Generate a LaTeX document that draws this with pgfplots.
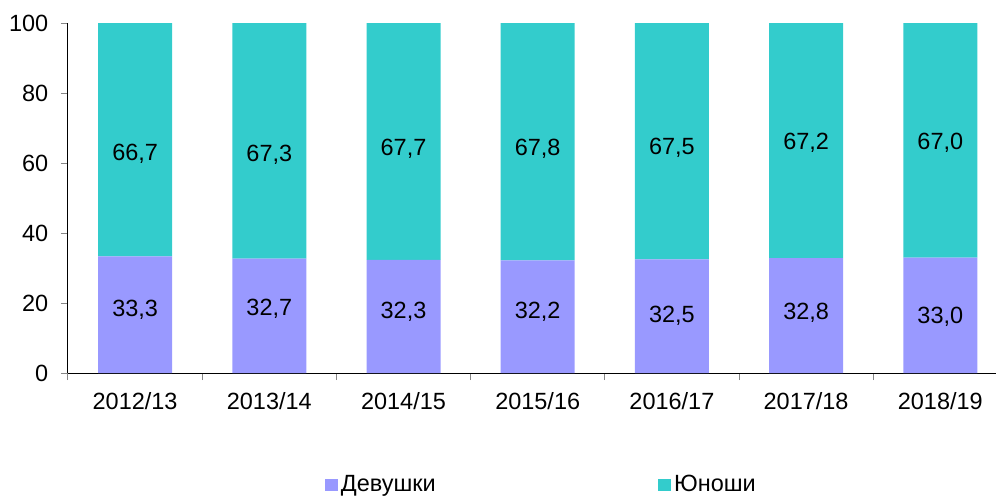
\documentclass[border=0pt]{standalone}
\usepackage{fontspec}
\setmainfont{Liberation Sans}
\usepackage{pgfplots}
\pgfplotsset{compat=1.18}
\definecolor{girls}{HTML}{9999FF}
\definecolor{boys}{HTML}{33CCCC}
\definecolor{tickgray}{HTML}{868686}

\newcommand{\chartfont}{\fontsize{17.6}{21}\selectfont}

\pgfplotsset{
  base/.style={scale only axis, width=696pt, height=262.5pt,
    xmin=-0.5, xmax=6.415, ymin=0, ymax=100},
}

\begin{document}
\chartfont
\begin{tikzpicture}
\begin{axis}[base, name=main,
  ybar stacked, bar width=55.5pt,
  axis x line*=bottom, axis y line*=left,
  axis line style={black, line width=0.75pt},
  xtick=data,
  xticklabels={2012/13,2013/14,2014/15,2015/16,2016/17,2017/18,2018/19},
  major x tick style={draw=none},
  minor xtick={-0.5,0.5,1.5,2.5,3.5,4.5,5.5},
  ytick={0,20,...,100},
  tick align=outside,
  major tick length=5.25pt, minor tick length=5.25pt,
  y tick style={tickgray, line width=0.75pt},
  minor x tick style={tickgray, line width=0.75pt},
  ticklabel style={font=\chartfont},
  yticklabel style={xshift=-3.5pt},
  xticklabel style={yshift=-3.5pt},
  /pgf/number format/assume math mode=true,
  every axis plot post/.append style={
    legend image code/.code={\fill[##1] (0pt,-4.5pt) rectangle (9.75pt,4.5pt);}},
  legend style={at={(0.277,-0.32)}, anchor=west, draw=none, fill=none,
    inner sep=0pt, font=\chartfont, legend columns=2,
    /tikz/every even column/.append style={column sep=165pt},
    nodes={inner sep=2pt}},
]
\addplot[fill=girls, draw=none]
  coordinates {(0,33.3)(1,32.7)(2,32.3)(3,32.2)(4,32.5)(5,32.8)(6,33.0)};
\addplot[fill=boys, draw=none]
  coordinates {(0,66.7)(1,67.3)(2,67.7)(3,67.8)(4,67.5)(5,67.2)(6,67.0)};
\legend{Девушки, Юноши}
\end{axis}

% value labels
\begin{axis}[base, hide axis, clip=false]
\addplot[draw=none, mark=none, point meta=explicit,
  nodes near coords={\pgfmathprintnumber[fixed, fixed zerofill, precision=1,
    use comma, assume math mode=true]{\pgfplotspointmeta}},
  nodes near coords style={anchor=center, font=\chartfont, text=black}]
  table[meta=v] {
x y v
0 18.0 33.3
1 18.3 32.7
2 17.4 32.3
3 17.4 32.2
4 16.3 32.5
5 17.1 32.8
6 16.0 33.0
};
\addplot[draw=none, mark=none, point meta=explicit,
  nodes near coords={\pgfmathprintnumber[fixed, fixed zerofill, precision=1,
    use comma, assume math mode=true]{\pgfplotspointmeta}},
  nodes near coords style={anchor=center, font=\chartfont, text=black}]
  table[meta=v] {
x y v
0 62.6 66.7
1 62.3 67.3
2 64.0 67.7
3 64.0 67.8
4 64.3 67.5
5 65.7 67.2
6 65.7 67.0
};
\end{axis}

\pgfresetboundingbox
\path (main.south west) ++(-51pt,-93pt) rectangle ++(747pt,372.75pt);
\end{tikzpicture}
\end{document}
